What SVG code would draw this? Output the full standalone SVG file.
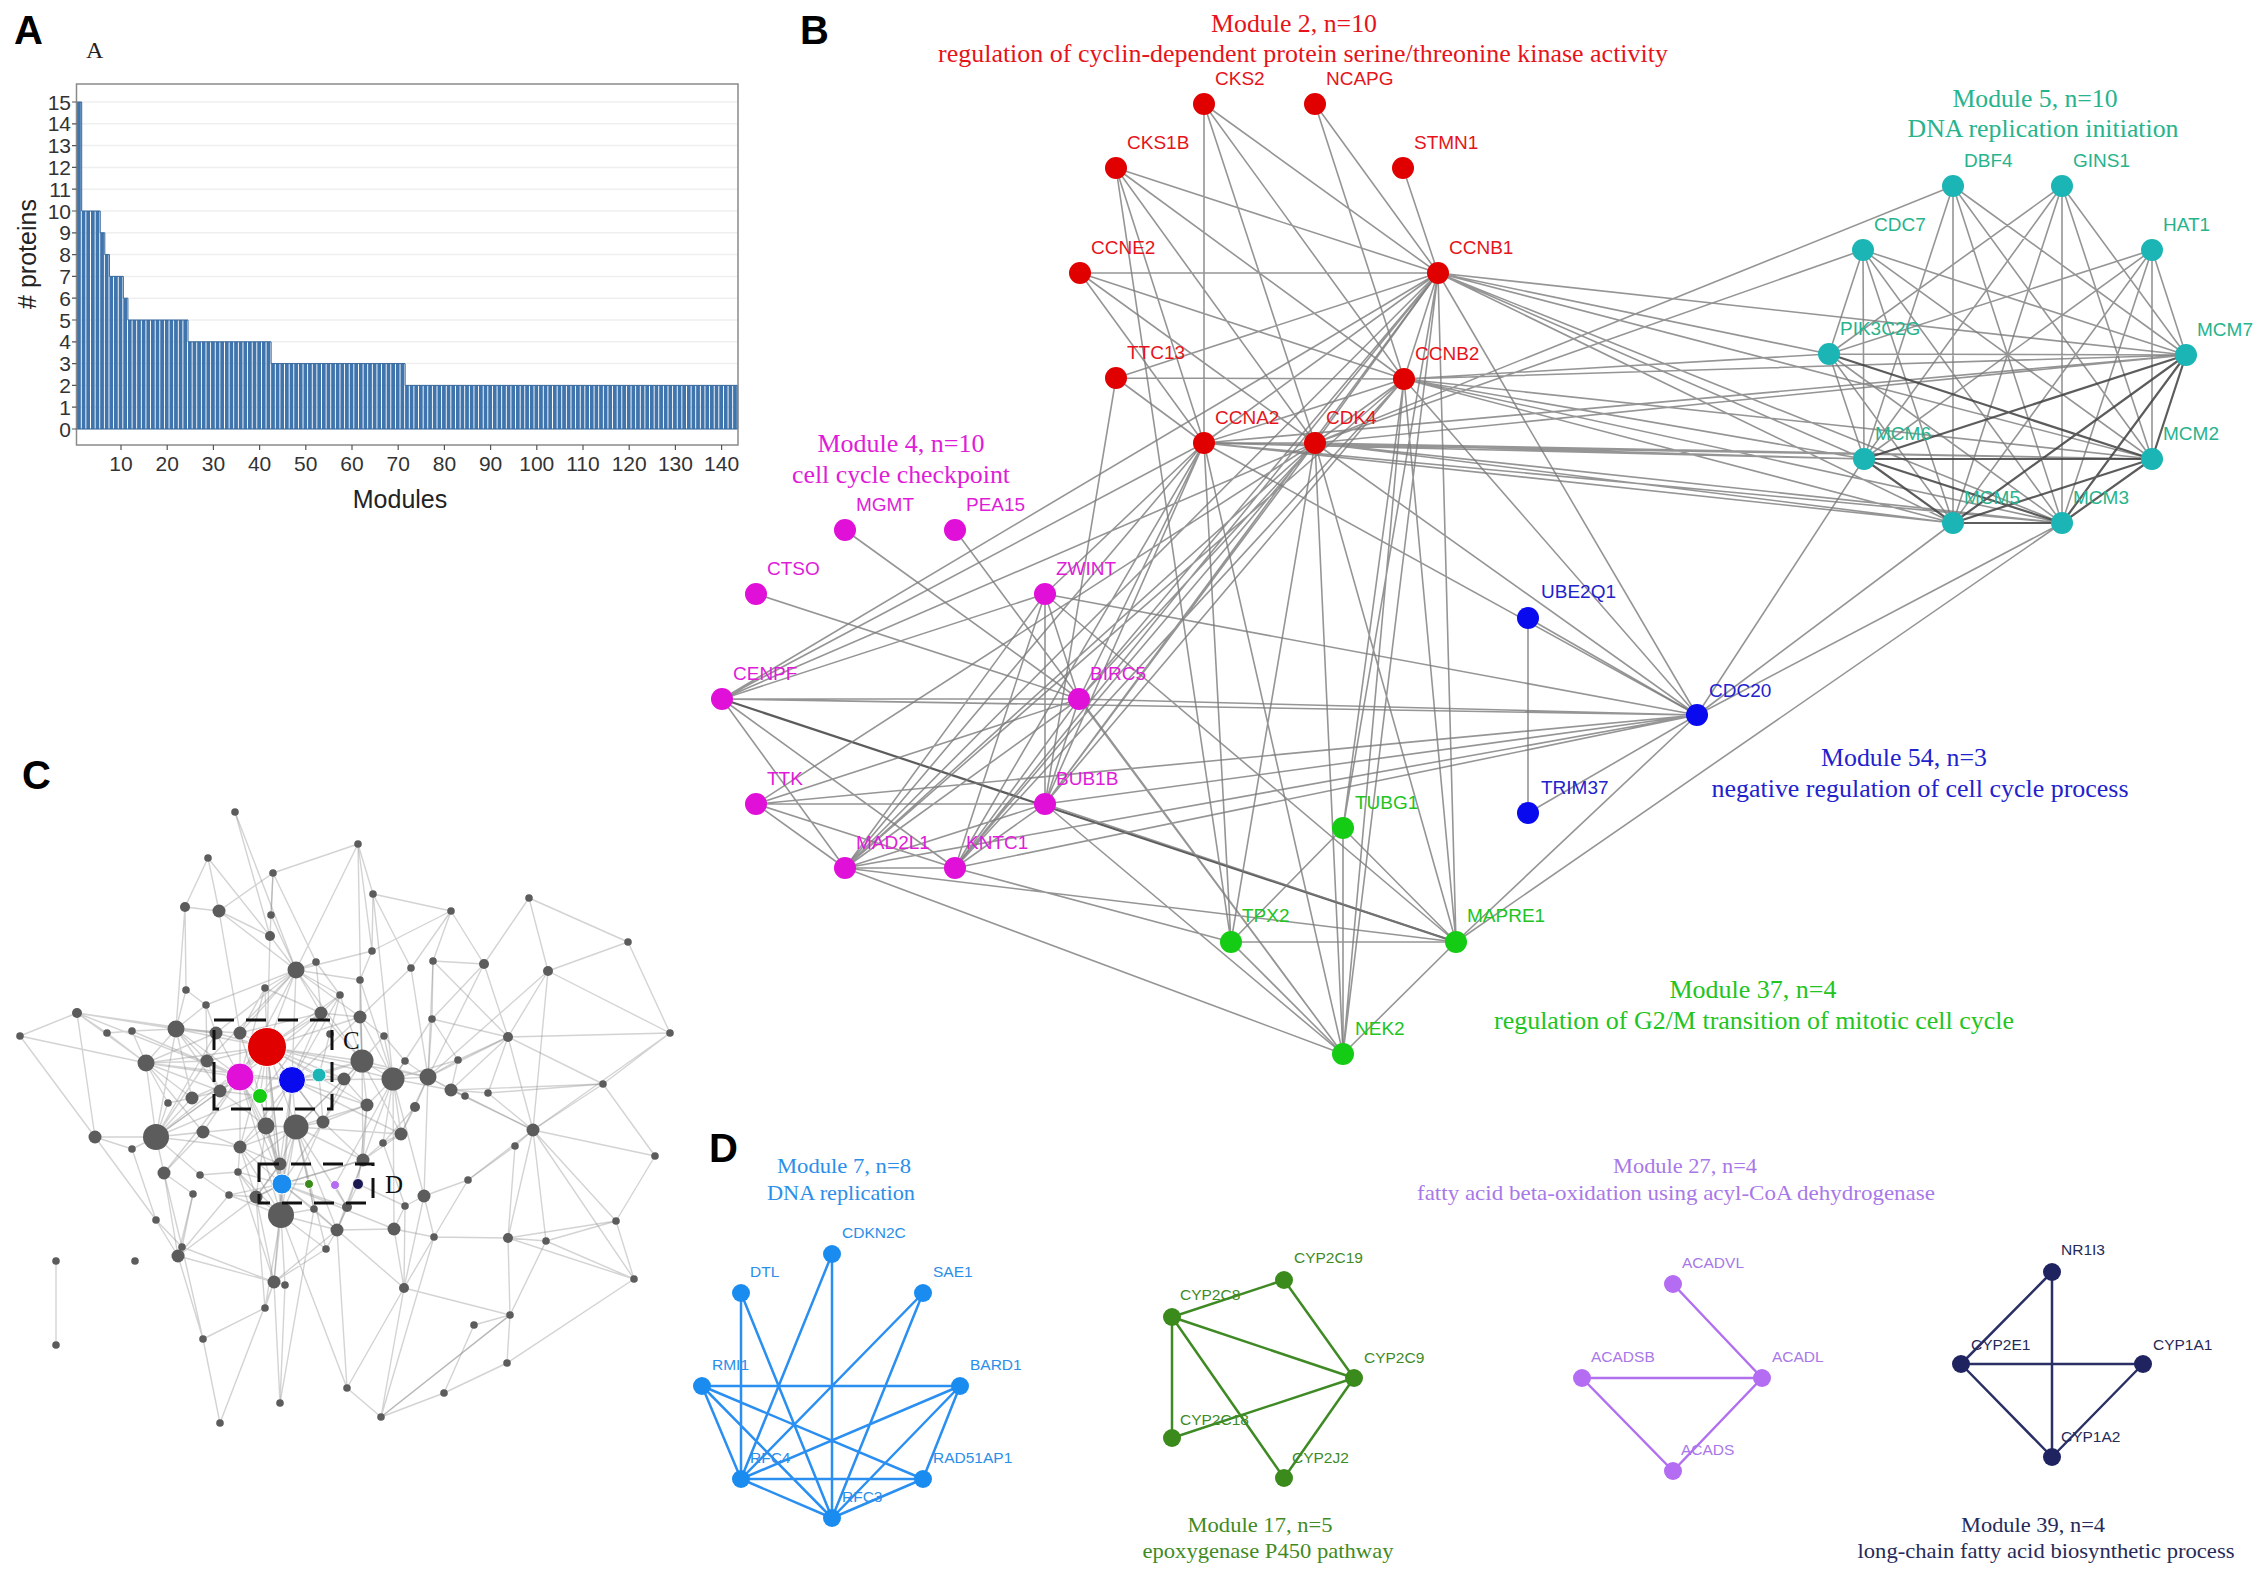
<svg xmlns="http://www.w3.org/2000/svg" width="2268" height="1578" viewBox="0 0 2268 1578">
<defs>
<style>
.pl{font-family:"Liberation Sans",Arial,sans-serif;font-weight:bold;font-size:40px;fill:#000}
.ax{font-family:"Liberation Sans",Arial,sans-serif;font-size:21px;fill:#333}
.axt{font-family:"Liberation Sans",Arial,sans-serif;font-size:25px;fill:#222}
.bl{font-family:"Liberation Sans",Arial,sans-serif;font-size:19px}
.dl{font-family:"Liberation Sans",Arial,sans-serif;font-size:15.5px}
.ser{font-family:"Liberation Serif","Times New Roman",serif;text-anchor:middle}
.tb{font-size:25px}
.td{font-size:22px}
.eb{stroke:#7a7a7a;stroke-width:1.6;fill:none;stroke-opacity:0.8}
.ebd{stroke:#404040;stroke-width:2.2;fill:none;stroke-opacity:0.85}
.ec{stroke:#8c8c8c;stroke-width:1.4;fill:none;stroke-opacity:0.38}
.gn{fill:#5c5c5c}
.cr{fill:#e00000}.tr{fill:#e6141a}
.cc{fill:#1bb5b5}.tc{fill:#27b38c}
.cm{fill:#e010d8}.tm{fill:#e01cd8}
.cb{fill:#0a0aee}.tbl{fill:#2222cc}
.cg{fill:#14cc14}.tg{fill:#22c422}
.c7{fill:#1a8cf0}.t7{fill:#2b8ee8}.e7{stroke:#2a8ff0;stroke-width:2.5;fill:none}
.c17{fill:#3a8a1c}.t17{fill:#3f8a24}.e17{stroke:#3f8a24;stroke-width:2.5;fill:none}
.c27{fill:#b46cf2}.t27{fill:#a878e8}.e27{stroke:#b070f0;stroke-width:2.5;fill:none}
.c39{fill:#1f2460}.t39{fill:#262a58}.e39{stroke:#2a2f66;stroke-width:2.5;fill:none}
.box{fill:none;stroke:#111;stroke-width:3;stroke-dasharray:20 12}
</style>
<pattern id="bars" patternUnits="userSpaceOnUse" x="77.1" y="0" width="4.62" height="10">
<rect x="0" y="0" width="3.7" height="10" fill="#3f74ad"/>
</pattern>
</defs>
<rect width="2268" height="1578" fill="#fff"/>

<!-- Panel A -->
<g id="panelA">
<text class="pl" x="14" y="44">A</text>
<text x="86" y="58" style="font-family:'Liberation Serif',serif;font-size:24px;fill:#222">A</text>
<path d="M77 429H738M77 407.2H738M77 385.4H738M77 363.6H738M77 341.8H738M77 320H738M77 298.2H738M77 276.4H738M77 254.6H738M77 232.8H738M77 211H738M77 189.2H738M77 167.4H738M77 145.6H738M77 123.8H738M77 102H738" stroke="#efefef" stroke-width="1.5" fill="none"/>
<path d="M77.1 429V102H81.7V211H100.2V232.8H104.8V254.6H109.4V276.4H123.3V298.2H127.9V320H188V341.8H271.1V363.6H405.1V385.4H737.7V429Z" fill="url(#bars)" stroke="#35679c" stroke-width="1"/>
<rect x="76.5" y="84" width="661.5" height="361" fill="none" stroke="#8a8a8a" stroke-width="1.5"/>
<path d="M72 429H76.5M72 407.2H76.5M72 385.4H76.5M72 363.6H76.5M72 341.8H76.5M72 320H76.5M72 298.2H76.5M72 276.4H76.5M72 254.6H76.5M72 232.8H76.5M72 211H76.5M72 189.2H76.5M72 167.4H76.5M72 145.6H76.5M72 123.8H76.5M72 102H76.5M121 445V450M167.2 445V450M213.4 445V450M259.6 445V450M305.8 445V450M352 445V450M398.2 445V450M444.4 445V450M490.6 445V450M536.8 445V450M583 445V450M629.2 445V450M675.4 445V450M721.6 445V450" stroke="#555" stroke-width="1.2"/>
<g class="ax" text-anchor="end">
<text x="71" y="436.5">0</text><text x="71" y="414.7">1</text><text x="71" y="392.9">2</text><text x="71" y="371.1">3</text><text x="71" y="349.3">4</text><text x="71" y="327.5">5</text><text x="71" y="305.7">6</text><text x="71" y="283.9">7</text><text x="71" y="262.1">8</text><text x="71" y="240.3">9</text><text x="71" y="218.5">10</text><text x="71" y="196.7">11</text><text x="71" y="174.9">12</text><text x="71" y="153.1">13</text><text x="71" y="131.3">14</text><text x="71" y="109.5">15</text>
</g>
<g class="ax" text-anchor="middle">
<text x="121" y="471">10</text><text x="167.2" y="471">20</text><text x="213.4" y="471">30</text><text x="259.6" y="471">40</text><text x="305.8" y="471">50</text><text x="352" y="471">60</text><text x="398.2" y="471">70</text><text x="444.4" y="471">80</text><text x="490.6" y="471">90</text><text x="536.8" y="471">100</text><text x="583" y="471">110</text><text x="629.2" y="471">120</text><text x="675.4" y="471">130</text><text x="721.6" y="471">140</text>
</g>
<text class="axt" x="400" y="508" text-anchor="middle">Modules</text>
<text class="axt" transform="translate(36 254) rotate(-90)" text-anchor="middle"># proteins</text>
</g>

<!-- Panel B -->
<g id="panelB">
<text class="pl" x="800" y="44">B</text>
<g id="B-connectors">
<path class="eb" d="M1204 104L1204 443M1204 104L1315 443M1204 104L1438 273M1204 104L1404 379M1315 104L1438 273M1315 104L1404 379M1403 168L1438 273M1116 168L1438 273M1116 168L1404 379M1116 168L1315 443M1116 168L1204 443M1080 273L1438 273M1080 273L1204 443M1080 273L1315 443M1080 273L1404 379M1116 378L1404 379M1116 378L1438 273M1116 378L1204 443M1116 378L1045 804M1438 273L1204 443M1438 273L1315 443M1438 273L1404 379M1404 379L1204 443M1404 379L1315 443M1204 443L1315 443"/>
<path class="eb" d="M1438 273L2186 355M1438 273L2152 459M1438 273L1864 459M1438 273L1953 523M1438 273L2062 523M1438 273L1829 354M1404 379L2186 355M1404 379L2152 459M1404 379L1864 459M1404 379L1953 523M1404 379L2062 523M1404 379L1829 354M1315 443L2186 355M1315 443L2152 459M1315 443L1864 459M1315 443L1953 523M1315 443L2062 523M1315 443L1953 186M1315 443L1863 250M1204 443L1864 459M1204 443L2152 459M1204 443L1953 523M1204 443L2062 523M1204 443L2186 355"/>
<path class="eb" d="M1953 186L1864 459M1953 186L1953 523M1953 186L2062 523M1953 186L2152 459M1953 186L2186 355M2062 186L1864 459M2062 186L1953 523M2062 186L2062 523M2062 186L2152 459M2062 186L2186 355M2062 186L1829 354M1863 250L1829 354M1863 250L1864 459M1863 250L1953 523M1863 250L2062 523M1863 250L2152 459M1863 250L2186 355M2152 250L2186 355M2152 250L2152 459M2152 250L2062 523M2152 250L1953 523M2152 250L1864 459M2152 250L1829 354M1829 354L2186 355M1829 354L1864 459M1829 354L1953 523M1829 354L2062 523M1864 459L1697 715M1953 523L1697 715M2062 523L1697 715M2062 523L1456 942"/>
<path class="ebd" d="M1829 354L2152 459M2186 355L2152 459M2186 355L2062 523M2186 355L1953 523M2186 355L1864 459M1864 459L2152 459M1864 459L1953 523M1864 459L2062 523M1953 523L2062 523M1953 523L2152 459M2062 523L2152 459M722 699L1456 942"/>
<path class="eb" d="M1438 273L845 868M1438 273L955 868M1438 273L1045 804M1438 273L1079 699M1438 273L722 699M1404 379L845 868M1404 379L955 868M1404 379L1045 804M1315 443L845 868M1315 443L955 868M1315 443L1045 804M1315 443L1079 699M1315 443L722 699M1315 443L756 804M1204 443L845 868M1204 443L1045 804M1204 443L955 868M1204 443L1079 699M1204 443L722 699M1204 443L1045 594"/>
<path class="eb" d="M1438 273L1697 715M1404 379L1697 715M1315 443L1697 715M1204 443L1697 715M1438 273L1343 1054M1438 273L1456 942M1438 273L1343 828M1315 443L1343 1054M1315 443L1456 942M1315 443L1231 942M1204 443L1343 1054M1204 443L1231 942M1404 379L1456 942M1404 379L1343 828M1404 379L1343 1054M1116 168L1231 942"/>
<path class="eb" d="M845 530L1079 699M955 530L1343 1054M756 594L1079 699M722 699L1045 594M722 699L1079 699M722 699L845 868M722 699L955 868M756 804L1045 804M756 804L845 868M756 804L955 868M756 804L1079 699M1045 594L845 868M1045 594L955 868M1045 594L1045 804M1045 594L1079 699M1045 594L1697 715M1045 594L1456 942M1079 699L845 868M1079 699L955 868M1079 699L1045 804M1079 699L1697 715M1079 699L1343 1054M1045 804L845 868M1045 804L955 868M1045 804L1697 715M1045 804L1456 942M1045 804L1343 1054M845 868L955 868M845 868L1697 715M845 868L1456 942M845 868L1343 1054M955 868L1697 715M955 868L1231 942M722 699L1697 715M756 804L1697 715"/>
<path class="eb" d="M1343 828L1456 942M1343 828L1343 1054M1343 828L1231 942M1231 942L1456 942M1231 942L1343 1054M1456 942L1343 1054M1697 715L1456 942M1528 618L1528 813M1528 618L1697 715M1528 813L1697 715"/>
</g>
<g class="ser tb tr"><text x="1294" y="32" textLength="166" lengthAdjust="spacingAndGlyphs">Module 2, n=10</text><text x="1303" y="62" textLength="730" lengthAdjust="spacingAndGlyphs">regulation of cyclin-dependent protein serine/threonine kinase activity</text></g>
<g class="ser tb tc"><text x="2035" y="107" textLength="165" lengthAdjust="spacingAndGlyphs">Module 5, n=10</text><text x="2043" y="137" textLength="271" lengthAdjust="spacingAndGlyphs">DNA replication initiation</text></g>
<g class="ser tb tm"><text x="901" y="452" textLength="167" lengthAdjust="spacingAndGlyphs">Module 4, n=10</text><text x="901" y="483" textLength="218" lengthAdjust="spacingAndGlyphs">cell cycle checkpoint</text></g>
<g class="ser tb tbl"><text x="1904" y="766" textLength="166" lengthAdjust="spacingAndGlyphs">Module 54, n=3</text><text x="1920" y="797" textLength="417" lengthAdjust="spacingAndGlyphs">negative regulation of cell cycle process</text></g>
<g class="ser tb tg"><text x="1753" y="998" textLength="167" lengthAdjust="spacingAndGlyphs">Module 37, n=4</text><text x="1754" y="1029" textLength="520" lengthAdjust="spacingAndGlyphs">regulation of G2/M transition of mitotic cell cycle</text></g>

<g id="n-CKS2"><circle class="cr" cx="1204" cy="104" r="11"/><text class="bl tr" x="1215" y="85">CKS2</text></g>
<g id="n-NCAPG"><circle class="cr" cx="1315" cy="104" r="11"/><text class="bl tr" x="1326" y="85">NCAPG</text></g>
<g id="n-CKS1B"><circle class="cr" cx="1116" cy="168" r="11"/><text class="bl tr" x="1127" y="149">CKS1B</text></g>
<g id="n-STMN1"><circle class="cr" cx="1403" cy="168" r="11"/><text class="bl tr" x="1414" y="149">STMN1</text></g>
<g id="n-CCNE2"><circle class="cr" cx="1080" cy="273" r="11"/><text class="bl tr" x="1091" y="254">CCNE2</text></g>
<g id="n-CCNB1"><circle class="cr" cx="1438" cy="273" r="11"/><text class="bl tr" x="1449" y="254">CCNB1</text></g>
<g id="n-TTC13"><circle class="cr" cx="1116" cy="378" r="11"/><text class="bl tr" x="1127" y="359">TTC13</text></g>
<g id="n-CCNB2"><circle class="cr" cx="1404" cy="379" r="11"/><text class="bl tr" x="1415" y="360">CCNB2</text></g>
<g id="n-CCNA2"><circle class="cr" cx="1204" cy="443" r="11"/><text class="bl tr" x="1215" y="424">CCNA2</text></g>
<g id="n-CDK4"><circle class="cr" cx="1315" cy="443" r="11"/><text class="bl tr" x="1326" y="424">CDK4</text></g>

<g id="n-DBF4"><circle class="cc" cx="1953" cy="186" r="11"/><text class="bl tc" x="1964" y="167">DBF4</text></g>
<g id="n-GINS1"><circle class="cc" cx="2062" cy="186" r="11"/><text class="bl tc" x="2073" y="167">GINS1</text></g>
<g id="n-CDC7"><circle class="cc" cx="1863" cy="250" r="11"/><text class="bl tc" x="1874" y="231">CDC7</text></g>
<g id="n-HAT1"><circle class="cc" cx="2152" cy="250" r="11"/><text class="bl tc" x="2163" y="231">HAT1</text></g>
<g id="n-PIK3C2G"><circle class="cc" cx="1829" cy="354" r="11"/><text class="bl tc" x="1840" y="335">PIK3C2G</text></g>
<g id="n-MCM7"><circle class="cc" cx="2186" cy="355" r="11"/><text class="bl tc" x="2197" y="336">MCM7</text></g>
<g id="n-MCM6"><circle class="cc" cx="1864" cy="459" r="11"/><text class="bl tc" x="1875" y="440">MCM6</text></g>
<g id="n-MCM2"><circle class="cc" cx="2152" cy="459" r="11"/><text class="bl tc" x="2163" y="440">MCM2</text></g>
<g id="n-MCM5"><circle class="cc" cx="1953" cy="523" r="11"/><text class="bl tc" x="1964" y="504">MCM5</text></g>
<g id="n-MCM3"><circle class="cc" cx="2062" cy="523" r="11"/><text class="bl tc" x="2073" y="504">MCM3</text></g>

<g id="n-MGMT"><circle class="cm" cx="845" cy="530" r="11"/><text class="bl tm" x="856" y="511">MGMT</text></g>
<g id="n-PEA15"><circle class="cm" cx="955" cy="530" r="11"/><text class="bl tm" x="966" y="511">PEA15</text></g>
<g id="n-CTSO"><circle class="cm" cx="756" cy="594" r="11"/><text class="bl tm" x="767" y="575">CTSO</text></g>
<g id="n-ZWINT"><circle class="cm" cx="1045" cy="594" r="11"/><text class="bl tm" x="1056" y="575">ZWINT</text></g>
<g id="n-CENPF"><circle class="cm" cx="722" cy="699" r="11"/><text class="bl tm" x="733" y="680">CENPF</text></g>
<g id="n-BIRC5"><circle class="cm" cx="1079" cy="699" r="11"/><text class="bl tm" x="1090" y="680">BIRC5</text></g>
<g id="n-TTK"><circle class="cm" cx="756" cy="804" r="11"/><text class="bl tm" x="767" y="785">TTK</text></g>
<g id="n-BUB1B"><circle class="cm" cx="1045" cy="804" r="11"/><text class="bl tm" x="1056" y="785">BUB1B</text></g>
<g id="n-MAD2L1"><circle class="cm" cx="845" cy="868" r="11"/><text class="bl tm" x="856" y="849">MAD2L1</text></g>
<g id="n-KNTC1"><circle class="cm" cx="955" cy="868" r="11"/><text class="bl tm" x="966" y="849">KNTC1</text></g>

<g id="n-UBE2Q1"><circle class="cb" cx="1528" cy="618" r="11"/><text class="bl tbl" x="1541" y="598">UBE2Q1</text></g>
<g id="n-CDC20"><circle class="cb" cx="1697" cy="715" r="11"/><text class="bl tbl" x="1709" y="697">CDC20</text></g>
<g id="n-TRIM37"><circle class="cb" cx="1528" cy="813" r="11"/><text class="bl tbl" x="1541" y="794">TRIM37</text></g>

<g id="n-TUBG1"><circle class="cg" cx="1343" cy="828" r="11"/><text class="bl tg" x="1355" y="809">TUBG1</text></g>
<g id="n-TPX2"><circle class="cg" cx="1231" cy="942" r="11"/><text class="bl tg" x="1242" y="922">TPX2</text></g>
<g id="n-MAPRE1"><circle class="cg" cx="1456" cy="942" r="11"/><text class="bl tg" x="1467" y="922">MAPRE1</text></g>
<g id="n-NEK2"><circle class="cg" cx="1343" cy="1054" r="11"/><text class="bl tg" x="1355" y="1035">NEK2</text></g>
</g>

<!-- Panel C -->
<g id="panelC">
<text class="pl" x="22" y="789">C</text>
<g id="C-connectors">
<path class="ec" d="M235 812L270 936M358 844L373 894M358 844L296 970M358 844L372 951M208 858L185 907M208 858L219 911M208 858L270 936M273 873L271 915M273 873L316 962M273 873L219 911M373 894L372 951M373 894L411 968M373 894L451 911M185 907L219 911M185 907L186 990M185 907L176 1029M219 911L240 1033M219 911L270 936M451 911L433 961M451 911L411 968M451 911L372 951M529 898L628 942M529 898L484 964M628 942L670 1033M372 951L360 980M372 951L296 970M296 970L316 962M296 970L321 1013M296 970L267 1047M296 970L240 1033M296 970L216 1033M296 970L265 988M316 962L340 995M433 961L484 964M433 961L432 1019M411 968L360 1017M411 968L428 1077M484 964L508 1037M484 964L432 1019M548 971L508 1037M548 971L670 1033M548 971L428 1077M548 971L533 1130M360 980L360 1017M360 980L362 1061M186 990L206 1005M186 990L176 1029M265 988L267 1047M265 988L240 1033M206 1005L207 1061M206 1005L216 1033M340 995L321 1013M340 995L319 1075"/>
<path class="ec" d="M77 1013L20 1036M77 1013L146 1063M77 1013L95 1137M77 1013L176 1029M77 1013L216 1033M77 1013L107 1033M77 1013L240 1077M321 1013L267 1047M321 1013L292 1080M321 1013L362 1061M360 1017L362 1061M360 1017L384 1036M432 1019L428 1077M432 1019L458 1060M20 1036L95 1137M20 1036L146 1063M107 1033L146 1063M107 1033L132 1031M132 1031L146 1063M132 1031L240 1077M176 1029L146 1063M176 1029L240 1077M176 1029L207 1061M176 1029L267 1047M216 1033L240 1077M216 1033L267 1047M240 1033L267 1047M240 1033L240 1077M384 1036L393 1079M384 1036L405 1061M508 1037L488 1093M508 1037L451 1090M508 1037L603 1084M670 1033L603 1084M670 1033L533 1130M146 1063L156 1137M146 1063L192 1098M146 1063L240 1077M146 1063L292 1080M207 1061L240 1077M207 1061L220 1091"/>
<path class="ec" d="M362 1061L292 1080M362 1061L319 1075M362 1061L344 1079M362 1061L393 1079M362 1061L367 1105M405 1061L428 1077M405 1061L393 1079M458 1060L451 1090M458 1060L428 1077M344 1079L319 1075M344 1079L367 1105M344 1079L323 1122M393 1079L428 1077M393 1079L367 1105M393 1079L401 1134M393 1079L292 1080M428 1077L451 1090M428 1077L415 1107M451 1090L465 1096M451 1090L488 1093M465 1096L533 1130M488 1093L533 1130M603 1084L533 1130M603 1084L655 1156M220 1091L240 1077M220 1091L260 1096M220 1091L266 1126M192 1098L156 1137M192 1098L220 1091M168 1103L156 1137M168 1103L192 1098M367 1105L323 1122M367 1105L363 1160M415 1107L401 1134M415 1107L383 1143M266 1126L260 1096M266 1126L296 1127M266 1126L240 1147M266 1126L280 1164M296 1127L292 1080M296 1127L323 1122M296 1127L280 1164M296 1127L281 1215M296 1127L267 1047M323 1122L319 1075M323 1122L363 1160"/>
<path class="ec" d="M156 1137L95 1137M156 1137L132 1149M156 1137L164 1173M156 1137L240 1077M156 1137L267 1047M156 1137L292 1080M95 1137L132 1149M95 1137L156 1220M203 1132L164 1173M203 1132L240 1147M203 1132L240 1077M401 1134L363 1160M401 1134L383 1143M533 1130L515 1146M533 1130L546 1241M132 1149L156 1220M240 1147L238 1172M240 1147L280 1164M383 1143L363 1160M383 1143L405 1206M515 1146L468 1180M515 1146L508 1238M655 1156L616 1221M655 1156L533 1130M280 1164L281 1215M280 1164L282 1184M280 1164L256 1197M363 1160L347 1207M363 1160L282 1184M164 1173L193 1194M164 1173L182 1247M200 1175L238 1172M200 1175L229 1195M238 1172L256 1197M468 1180L424 1196M468 1180L434 1237M229 1195L256 1197M229 1195L282 1184M193 1194L182 1247M256 1197L282 1184M256 1197L281 1215M256 1197L274 1282M424 1196L405 1206M424 1196L434 1237M314 1209L281 1215M314 1209L309 1184M347 1207L337 1230M347 1207L335 1185M405 1206L394 1229M405 1206L358 1184"/>
<path class="ec" d="M281 1215L282 1184M281 1215L274 1282M281 1215L285 1285M281 1215L347 1388M281 1215L265 1308M156 1220L182 1247M156 1220L178 1256M616 1221L546 1241M337 1230L326 1249M337 1230L358 1184M394 1229L404 1288M394 1229L434 1237M434 1237L508 1238M508 1238L546 1241M508 1238L510 1315M508 1238L634 1279M546 1241L634 1279M182 1247L178 1256M182 1247L203 1339M178 1256L203 1339M326 1249L274 1282M56 1261L56 1345M274 1282L285 1285M274 1282L280 1403M274 1282L220 1423M274 1282L265 1308M285 1285L280 1403M404 1288L510 1315M404 1288L381 1417M404 1288L347 1388M510 1315L474 1325M510 1315L507 1363M474 1325L444 1393M203 1339L265 1308M203 1339L220 1423M507 1363L444 1393M347 1388L337 1230M444 1393L381 1417M381 1417L434 1237"/>
<path class="ec" d="M267 1047L240 1077M267 1047L292 1080M267 1047L319 1075M267 1047L260 1096M240 1077L260 1096M240 1077L292 1080M292 1080L319 1075M292 1080L260 1096M267 1047L282 1184M240 1077L282 1184M292 1080L282 1184M282 1184L309 1184M260 1096L282 1184M267 1047L362 1061M267 1047L344 1079M267 1047L266 1126M240 1077L266 1126M292 1080L323 1122M292 1080L367 1105M296 970L292 1080M296 970L362 1061M270 936L296 970M270 936L267 1047M321 1013L260 1096M240 1033L260 1096M393 1079L267 1047M362 1061L296 1127M235 812L296 970M358 844L362 1061M373 894L393 1079M529 898L548 971M628 942L548 971M451 911L484 964M360 980L393 1079M603 1084L451 1090M634 1279L533 1130M616 1221L533 1130M381 1417L510 1315M670 1033L508 1037M358 1184L367 1105M335 1185L393 1079M282 1184L296 1127M282 1184L240 1147M282 1184L274 1282M282 1184L337 1230M309 1184L296 1127"/>
<path class="ec" d="M267 1047L340 995M267 1047L360 1017M267 1047L207 1061M267 1047L220 1091M267 1047L323 1122M267 1047L367 1105M267 1047L240 1147M267 1047L280 1164M267 1047L281 1215M267 1047L146 1063M267 1047L428 1077M240 1077L192 1098M240 1077L240 1147M240 1077L280 1164M240 1077L164 1173M240 1077L281 1215M240 1077L321 1013M240 1077L265 988M240 1077L296 970M292 1080L344 1079M292 1080L340 995M292 1080L360 1017M292 1080L266 1126M292 1080L280 1164M292 1080L240 1147M292 1080L281 1215M292 1080L401 1134M282 1184L256 1197M282 1184L363 1160M282 1184L238 1172M282 1184L323 1122M282 1184L266 1126M282 1184L394 1229M282 1184L347 1207M282 1184L314 1209"/>
<path class="ec" d="M296 1127L344 1079M296 1127L367 1105M296 1127L363 1160M296 1127L401 1134M296 1127L337 1230M296 1127L326 1249M296 1127L314 1209M296 1127L347 1207M296 1127L240 1147M296 1127L238 1172M281 1215L238 1172M281 1215L229 1195M281 1215L337 1230M281 1215L326 1249M281 1215L240 1147M281 1215L323 1122M362 1061L384 1036M362 1061L340 995M362 1061L323 1122M362 1061L363 1160M362 1061L401 1134M362 1061L428 1077M393 1079L360 1017M393 1079L432 1019M393 1079L458 1060M393 1079L451 1090M393 1079L363 1160M393 1079L394 1229M393 1079L424 1196M393 1079L383 1143"/>
<path class="ec" d="M156 1137L220 1091M156 1137L203 1132M156 1137L240 1147M156 1137L200 1175M156 1137L266 1126M156 1137L207 1061M156 1137L176 1029M156 1137L216 1033M146 1063L207 1061M146 1063L216 1033M146 1063L220 1091M146 1063L203 1132M146 1063L168 1103M176 1029L216 1033M176 1029L206 1005M176 1029L220 1091M176 1029L192 1098M176 1029L240 1033M176 1029L132 1031M296 970L340 995M296 970L360 1017M296 970L360 980M296 970L271 915M296 970L219 911M296 970L206 1005M296 970L207 1061M428 1077L465 1096M428 1077L433 961M428 1077L484 964M428 1077L508 1037M428 1077L401 1134M428 1077L424 1196"/>
<path class="ec" d="M533 1130L451 1090M533 1130L508 1037M533 1130L468 1180M533 1130L508 1238M508 1037L458 1060M508 1037L432 1019M508 1037L433 961M321 1013L360 1017M321 1013L265 988M321 1013L316 962M321 1013L240 1033M256 1197L240 1147M256 1197L266 1126M256 1197L280 1164M256 1197L178 1256M256 1197L265 1308M274 1282L337 1230M274 1282L238 1172M274 1282L178 1256M274 1282L182 1247M404 1288L405 1206M404 1288L424 1196M404 1288L434 1237M404 1288L337 1230M178 1256L193 1194M178 1256L164 1173M178 1256L229 1195M337 1230L363 1160M337 1230L314 1209M337 1230L394 1229M358 844L273 873M273 873L270 936M603 1084L488 1093M634 1279L616 1221M616 1221L508 1238M510 1315L546 1241M507 1363L634 1279M347 1388L381 1417M280 1403L314 1209M381 1417L510 1315"/>
</g>
<g id="C-nodes" class="gn">
<circle cx="235" cy="812" r="3.8"/><circle cx="358" cy="844" r="3.8"/><circle cx="208" cy="858" r="3.8"/><circle cx="273" cy="873" r="3.8"/><circle cx="373" cy="894" r="3.8"/><circle cx="185" cy="907" r="5"/><circle cx="219" cy="911" r="6.5"/><circle cx="271" cy="915" r="3.8"/><circle cx="451" cy="911" r="3.8"/><circle cx="529" cy="898" r="3.8"/><circle cx="270" cy="936" r="5"/><circle cx="628" cy="942" r="3.8"/><circle cx="372" cy="951" r="3.8"/><circle cx="296" cy="970" r="8.5"/><circle cx="316" cy="962" r="3.8"/><circle cx="433" cy="961" r="3.8"/><circle cx="411" cy="968" r="3.8"/><circle cx="484" cy="964" r="5"/><circle cx="548" cy="971" r="5"/><circle cx="360" cy="980" r="3.8"/><circle cx="186" cy="990" r="3.8"/><circle cx="265" cy="988" r="3.8"/><circle cx="206" cy="1005" r="3.8"/><circle cx="340" cy="995" r="3.8"/><circle cx="77" cy="1013" r="5"/><circle cx="321" cy="1013" r="6.5"/><circle cx="360" cy="1017" r="6.5"/><circle cx="432" cy="1019" r="3.8"/><circle cx="20" cy="1036" r="3.8"/><circle cx="107" cy="1033" r="3.8"/><circle cx="132" cy="1031" r="3.8"/><circle cx="176" cy="1029" r="8.5"/><circle cx="216" cy="1033" r="6.5"/><circle cx="240" cy="1033" r="6.5"/><circle cx="330" cy="1034" r="3.8"/><circle cx="384" cy="1036" r="3.8"/><circle cx="508" cy="1037" r="5"/><circle cx="670" cy="1033" r="3.8"/><circle cx="146" cy="1063" r="8.5"/><circle cx="207" cy="1061" r="6.5"/><circle cx="362" cy="1061" r="11.5"/><circle cx="405" cy="1061" r="3.8"/><circle cx="458" cy="1060" r="3.8"/><circle cx="344" cy="1079" r="6.5"/><circle cx="393" cy="1079" r="11.5"/><circle cx="428" cy="1077" r="8.5"/><circle cx="451" cy="1090" r="6.5"/><circle cx="465" cy="1096" r="3.8"/><circle cx="488" cy="1093" r="3.8"/><circle cx="603" cy="1084" r="3.8"/><circle cx="220" cy="1091" r="6.5"/><circle cx="192" cy="1098" r="6.5"/><circle cx="168" cy="1103" r="3.8"/><circle cx="367" cy="1105" r="6.5"/><circle cx="415" cy="1107" r="5"/><circle cx="266" cy="1126" r="8.5"/><circle cx="296" cy="1127" r="12.5"/><circle cx="323" cy="1122" r="6.5"/><circle cx="156" cy="1137" r="13"/><circle cx="95" cy="1137" r="6.5"/><circle cx="203" cy="1132" r="6.5"/><circle cx="401" cy="1134" r="6.5"/><circle cx="533" cy="1130" r="6.5"/><circle cx="132" cy="1149" r="3.8"/><circle cx="240" cy="1147" r="6.5"/><circle cx="383" cy="1143" r="3.8"/><circle cx="515" cy="1146" r="3.8"/><circle cx="655" cy="1156" r="3.8"/><circle cx="280" cy="1164" r="6.5"/><circle cx="363" cy="1160" r="6.5"/><circle cx="164" cy="1173" r="6.5"/><circle cx="200" cy="1175" r="3.8"/><circle cx="238" cy="1172" r="3.8"/><circle cx="468" cy="1180" r="3.8"/><circle cx="229" cy="1195" r="3.8"/><circle cx="193" cy="1194" r="3.8"/><circle cx="256" cy="1197" r="6.5"/><circle cx="424" cy="1196" r="6.5"/><circle cx="314" cy="1209" r="3.8"/><circle cx="347" cy="1207" r="5"/><circle cx="405" cy="1206" r="3.8"/><circle cx="281" cy="1215" r="13"/><circle cx="156" cy="1220" r="3.8"/><circle cx="616" cy="1221" r="3.8"/><circle cx="337" cy="1230" r="6.5"/><circle cx="394" cy="1229" r="6.5"/><circle cx="434" cy="1237" r="3.8"/><circle cx="508" cy="1238" r="5"/><circle cx="546" cy="1241" r="3.8"/><circle cx="182" cy="1247" r="3.8"/><circle cx="178" cy="1256" r="6.5"/><circle cx="326" cy="1249" r="3.8"/><circle cx="56" cy="1261" r="3.8"/><circle cx="135" cy="1261" r="3.8"/><circle cx="274" cy="1282" r="6.5"/><circle cx="285" cy="1285" r="3.8"/><circle cx="634" cy="1279" r="3.8"/><circle cx="404" cy="1288" r="5"/><circle cx="265" cy="1308" r="3.8"/><circle cx="510" cy="1315" r="3.8"/><circle cx="474" cy="1325" r="3.8"/><circle cx="203" cy="1339" r="3.8"/><circle cx="56" cy="1345" r="3.8"/><circle cx="507" cy="1363" r="3.8"/><circle cx="347" cy="1388" r="3.8"/><circle cx="444" cy="1393" r="3.8"/><circle cx="280" cy="1403" r="3.8"/><circle cx="220" cy="1423" r="3.8"/><circle cx="381" cy="1417" r="3.8"/>
</g>
<g id="C-modules" stroke="#fff" stroke-width="1">
<circle cx="267" cy="1047" r="19.5" fill="#e00000"/>
<circle cx="240" cy="1077" r="14" fill="#e010d8"/>
<circle cx="292" cy="1080" r="13.5" fill="#0a0aee"/>
<circle cx="319" cy="1075" r="7" fill="#1bb5b5"/>
<circle cx="260" cy="1096" r="7.5" fill="#14cc14"/>
<circle cx="282" cy="1184" r="10" fill="#1a8cf0"/>
<circle cx="309" cy="1184" r="4.5" fill="#3a8a1c"/>
<circle cx="335" cy="1185" r="4.5" fill="#b46cf2"/>
<circle cx="358" cy="1184" r="5.5" fill="#1a1a50"/>
</g>
<rect class="box" x="214" y="1020" width="118" height="89"/>
<rect class="box" x="259" y="1164" width="114" height="39"/>
<text x="343" y="1049" style="font-family:'Liberation Serif',serif;font-size:25px;fill:#111">C</text>
<text x="385" y="1193" style="font-family:'Liberation Serif',serif;font-size:25px;fill:#111">D</text>
</g>

<!-- Panel D -->
<g id="panelD">
<text class="pl" x="709" y="1162">D</text>
<g class="ser td t7"><text x="844" y="1173" textLength="134" lengthAdjust="spacingAndGlyphs">Module 7, n=8</text><text x="841" y="1200" textLength="148" lengthAdjust="spacingAndGlyphs">DNA replication</text></g>
<g class="ser td t17"><text x="1260" y="1532" textLength="145" lengthAdjust="spacingAndGlyphs">Module 17, n=5</text><text x="1268" y="1558" textLength="251" lengthAdjust="spacingAndGlyphs">epoxygenase P450 pathway</text></g>
<g class="ser td t27"><text x="1685" y="1173" textLength="144" lengthAdjust="spacingAndGlyphs">Module 27, n=4</text><text x="1676" y="1200" textLength="518" lengthAdjust="spacingAndGlyphs">fatty acid beta-oxidation using acyl-CoA dehydrogenase</text></g>
<g class="ser td t39"><text x="2033" y="1532" textLength="144" lengthAdjust="spacingAndGlyphs">Module 39, n=4</text><text x="2046" y="1558" textLength="377" lengthAdjust="spacingAndGlyphs">long-chain fatty acid biosynthetic process</text></g>
<g id="D-connectors">
<path class="e7" d="M702 1386L960 1386M702 1386L741 1479M702 1386L832 1518M702 1386L923 1479M741 1293L741 1479M741 1293L832 1518M832 1254L741 1479M832 1254L832 1518M923 1293L741 1479M923 1293L832 1518M960 1386L741 1479M960 1386L832 1518M960 1386L923 1479M741 1479L923 1479M741 1479L832 1518M923 1479L832 1518"/>
<path class="e17" d="M1172 1317L1284 1280M1284 1280L1354 1378M1172 1317L1354 1378M1172 1317L1172 1438M1172 1317L1284 1478M1172 1438L1354 1378M1354 1378L1284 1478"/>
<path class="e27" d="M1673 1284L1762 1378M1582 1378L1762 1378M1582 1378L1673 1471M1673 1471L1762 1378"/>
<path class="e39" d="M2052 1272L1961 1364M2052 1272L2052 1457M1961 1364L2143 1364M1961 1364L2052 1457M2143 1364L2052 1457"/>
</g>
<g id="n-CDKN2C"><circle class="c7" cx="832" cy="1254" r="9"/><text class="dl t7" x="842" y="1238">CDKN2C</text></g>
<g id="n-DTL"><circle class="c7" cx="741" cy="1293" r="9"/><text class="dl t7" x="750" y="1277">DTL</text></g>
<g id="n-SAE1"><circle class="c7" cx="923" cy="1293" r="9"/><text class="dl t7" x="933" y="1277">SAE1</text></g>
<g id="n-RMI1"><circle class="c7" cx="702" cy="1386" r="9"/><text class="dl t7" x="712" y="1370">RMI1</text></g>
<g id="n-BARD1"><circle class="c7" cx="960" cy="1386" r="9"/><text class="dl t7" x="970" y="1370">BARD1</text></g>
<g id="n-RFC4"><circle class="c7" cx="741" cy="1479" r="9"/><text class="dl t7" x="750" y="1463">RFC4</text></g>
<g id="n-RAD51AP1"><circle class="c7" cx="923" cy="1479" r="9"/><text class="dl t7" x="933" y="1463">RAD51AP1</text></g>
<g id="n-RFC3"><circle class="c7" cx="832" cy="1518" r="9"/><text class="dl t7" x="842" y="1502">RFC3</text></g>
<g id="n-CYP2C19"><circle class="c17" cx="1284" cy="1280" r="9"/><text class="dl t17" x="1294" y="1263">CYP2C19</text></g>
<g id="n-CYP2C8"><circle class="c17" cx="1172" cy="1317" r="9"/><text class="dl t17" x="1180" y="1300">CYP2C8</text></g>
<g id="n-CYP2C9"><circle class="c17" cx="1354" cy="1378" r="9"/><text class="dl t17" x="1364" y="1363">CYP2C9</text></g>
<g id="n-CYP2C18"><circle class="c17" cx="1172" cy="1438" r="9"/><text class="dl t17" x="1180" y="1425">CYP2C18</text></g>
<g id="n-CYP2J2"><circle class="c17" cx="1284" cy="1478" r="9"/><text class="dl t17" x="1292" y="1463">CYP2J2</text></g>
<g id="n-ACADVL"><circle class="c27" cx="1673" cy="1284" r="9"/><text class="dl t27" x="1682" y="1268">ACADVL</text></g>
<g id="n-ACADSB"><circle class="c27" cx="1582" cy="1378" r="9"/><text class="dl t27" x="1591" y="1362">ACADSB</text></g>
<g id="n-ACADL"><circle class="c27" cx="1762" cy="1378" r="9"/><text class="dl t27" x="1772" y="1362">ACADL</text></g>
<g id="n-ACADS"><circle class="c27" cx="1673" cy="1471" r="9"/><text class="dl t27" x="1681" y="1455">ACADS</text></g>
<g id="n-NR1I3"><circle class="c39" cx="2052" cy="1272" r="9"/><text class="dl t39" x="2061" y="1255">NR1I3</text></g>
<g id="n-CYP2E1"><circle class="c39" cx="1961" cy="1364" r="9"/><text class="dl t39" x="1971" y="1350">CYP2E1</text></g>
<g id="n-CYP1A1"><circle class="c39" cx="2143" cy="1364" r="9"/><text class="dl t39" x="2153" y="1350">CYP1A1</text></g>
<g id="n-CYP1A2"><circle class="c39" cx="2052" cy="1457" r="9"/><text class="dl t39" x="2061" y="1442">CYP1A2</text></g>
</g>
</svg>
